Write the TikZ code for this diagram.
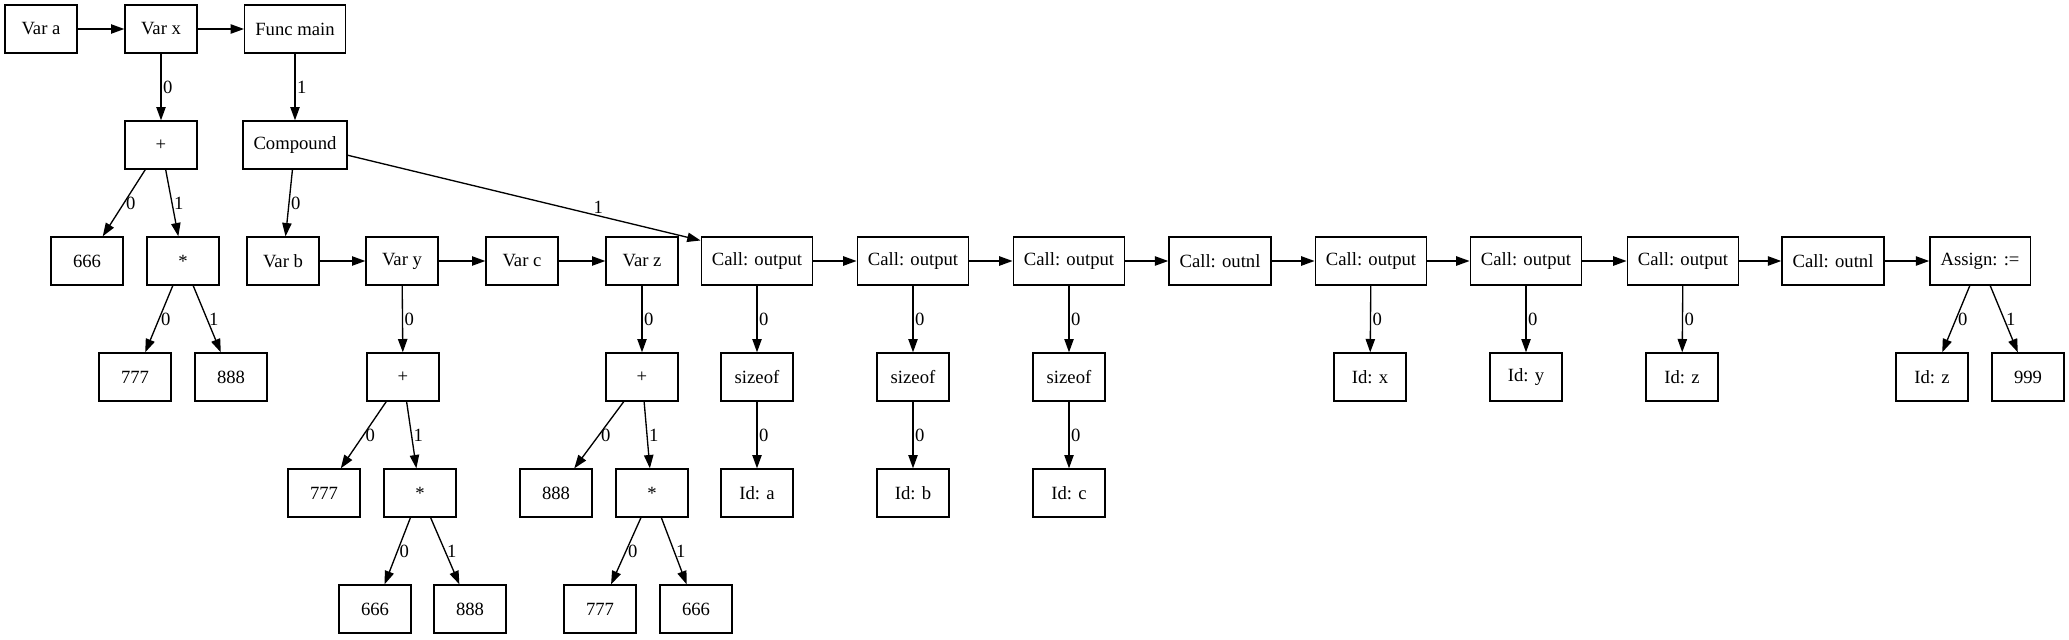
\documentclass[tikz,border=0pt]{standalone}
\usepackage{fontspec}
\setmainfont{Liberation Serif}
\usetikzlibrary{arrows.meta}

\begin{document}
\begin{tikzpicture}[x=0.75pt,y=-0.75pt,
		every node/.style={font=\fontsize{14}{16}\selectfont},
		box/.style={draw,line width=1pt,minimum width=54pt,minimum height=36pt,inner xsep=8pt,inner ysep=2pt},
		link/.style={line width=1pt,-{Triangle[length=10pt,width=7pt]},every node/.append style={inner sep=1pt}}]
		\useasboundingbox (0,0) rectangle (2069,639);
		\node[box] (vara) at (41,29) {Var a};
		\node[box] (varx) at (161,29) {Var x};
		\node[box] (funcmain) at (295,29) {Func main};
		\node[box] (plusx) at (161,145) {+};
		\node[box] (compound) at (295,145) {Compound};
		\node[box] (numxa) at (87,261) {666};
		\node[box] (starx) at (183,261) {*};
		\node[box] (varb) at (283,261) {Var b};
		\node[box] (vary) at (402,261) {Var y};
		\node[box] (varc) at (522,261) {Var c};
		\node[box] (varz) at (642,261) {Var z};
		\node[box] (outa) at (757,261) {Call: output};
		\node[box] (outb) at (913,261) {Call: output};
		\node[box] (outc) at (1069,261) {Call: output};
		\node[box] (nla) at (1220,261) {Call: outnl};
		\node[box] (outx) at (1371,261) {Call: output};
		\node[box] (outy) at (1526,261) {Call: output};
		\node[box] (outz) at (1683,261) {Call: output};
		\node[box] (nlb) at (1833,261) {Call: outnl};
		\node[box] (assign) at (1980,261) {Assign: :=};
		\node[box] (numxb) at (135,377) {777};
		\node[box] (numxc) at (231,377) {888};
		\node[box] (plusy) at (403,377) {+};
		\node[box] (plusz) at (642,377) {+};
		\node[box] (sizea) at (757,377) {sizeof};
		\node[box] (sizeb) at (913,377) {sizeof};
		\node[box] (sizec) at (1069,377) {sizeof};
		\node[box] (idx) at (1370,377) {Id: x};
		\node[box] (idy) at (1526,377) {Id: y};
		\node[box] (idz) at (1682,377) {Id: z};
		\node[box] (idzz) at (1932,377) {Id: z};
		\node[box] (numq) at (2028,377) {999};
		\node[box] (numya) at (324,493) {777};
		\node[box] (stary) at (420,493) {*};
		\node[box] (numza) at (556,493) {888};
		\node[box] (starz) at (652,493) {*};
		\node[box] (ida) at (757,493) {Id: a};
		\node[box] (idb) at (913,493) {Id: b};
		\node[box] (idc) at (1069,493) {Id: c};
		\node[box] (numyb) at (375,609) {666};
		\node[box] (numyc) at (470,609) {888};
		\node[box] (numzb) at (600,609) {777};
		\node[box] (numzc) at (696,609) {666};

		\draw[link](vara) -- (varx);
		\draw[link](varx) -- (funcmain);
		\draw[link,right](varx) -- node {0} (plusx);
		\draw[link,right](funcmain) -- node {1} (compound);
		\draw[link,right](plusx) -- node {0} (numxa);
		\draw[link,right](plusx) -- node {1} (starx);
		\draw[link,right](starx) -- node {0} (numxb);
		\draw[link,right](starx) -- node {1} (numxc);
		\draw[link,right](compound) -- node {0} (varb);
		\draw[link,above](compound.-11) -- node[pos=0.71] {1} (outa.160);
		\draw[link](varb) -- (vary);
		\draw[link](vary) -- (varc);
		\draw[link](varc) -- (varz);
		\draw[link,right](vary) -- node {0} (plusy);
		\draw[link,right](plusy) -- node {0} (numya);
		\draw[link,right](plusy) -- node {1} (stary);
		\draw[link,right](stary) -- node {0} (numyb);
		\draw[link,right](stary) -- node {1} (numyc);
		\draw[link,right](varz) -- node {0} (plusz);
		\draw[link,right](plusz) -- node {0} (numza);
		\draw[link,right](plusz) -- node {1} (starz);
		\draw[link,right](starz) -- node {0} (numzb);
		\draw[link,right](starz) -- node {1} (numzc);
		\draw[link](outa) -- (outb);
		\draw[link](outb) -- (outc);
		\draw[link](outc) -- (nla);
		\draw[link](nla) -- (outx);
		\draw[link](outx) -- (outy);
		\draw[link](outy) -- (outz);
		\draw[link](outz) -- (nlb);
		\draw[link](nlb) -- (assign);
		\draw[link,right](outa) -- node {0} (sizea);
		\draw[link,right](sizea) -- node {0} (ida);
		\draw[link,right](outb) -- node {0} (sizeb);
		\draw[link,right](sizeb) -- node {0} (idb);
		\draw[link,right](outc) -- node {0} (sizec);
		\draw[link,right](sizec) -- node {0} (idc);
		\draw[link,right](outx) -- node {0} (idx);
		\draw[link,right](outy) -- node {0} (idy);
		\draw[link,right](outz) -- node {0} (idz);
		\draw[link,right](assign) -- node {0} (idzz);
		\draw[link,right](assign) -- node {1} (numq);
\end{tikzpicture}
\end{document}
